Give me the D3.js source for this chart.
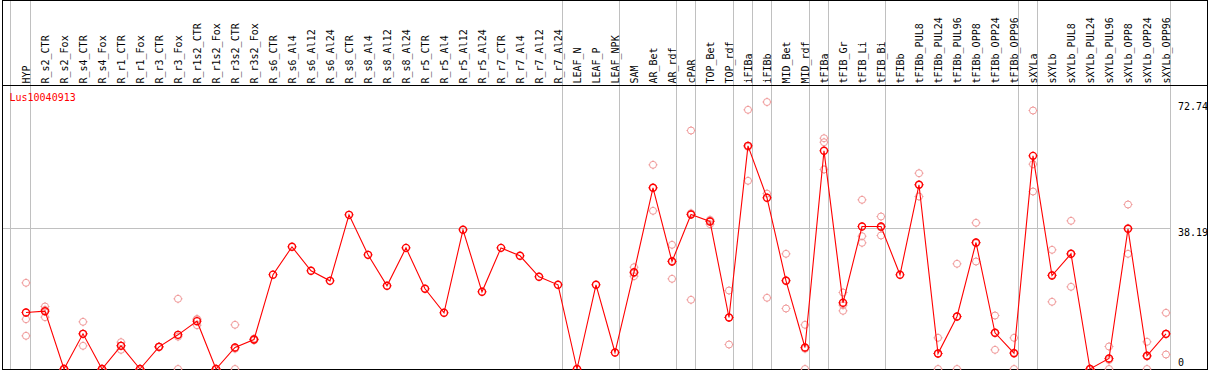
<!DOCTYPE html>
<html>
<head>
<meta charset="utf-8">
<script src="https://cdn.jsdelivr.net/npm/d3@7"></script>
<style>
  body { margin: 0; background: #fff; }
  svg { display: block; }
  text { font-family: "DejaVu Sans Mono", monospace; font-size: 10px; }
</style>
</head>
<body>
<svg id="chart" width="1209" height="370"></svg>
<script>
// Sample names, one per column
var categories = ["HYP", "R_s2_CTR", "R_s2_Fox", "R_s4_CTR", "R_s4_Fox", "R_r1_CTR", "R_r1_Fox",
    "R_r3_CTR", "R_r3_Fox", "R_r1s2_CTR", "R_r1s2_Fox", "R_r3s2_CTR", "R_r3s2_Fox",
    "R_s6_CTR", "R_s6_Al4", "R_s6_Al12", "R_s6_Al24", "R_s8_CTR", "R_s8_Al4", "R_s8_Al12", "R_s8_Al24",
    "R_r5_CTR", "R_r5_Al4", "R_r5_Al12", "R_r5_Al24", "R_r7_CTR", "R_r7_Al4", "R_r7_Al12", "R_r7_Al24",
    "LEAF_N", "LEAF_P", "LEAF_NPK", "SAM", "AR_Bet", "AR_rdf", "cPAR", "TOP_Bet", "TOP_rdf",
    "iFIBa", "iFIBb", "MID_Bet", "MID_rdf", "tFIBa", "tFIB_Gr", "tFIB_Li", "tFIB_Bi", "tFIBb",
    "tFIBb_PUL8", "tFIBb_PUL24", "tFIBb_PUL96", "tFIBb_OPP8", "tFIBb_OPP24", "tFIBb_OPP96",
    "sXYLa", "sXYLb", "sXYLb_PUL8", "sXYLb_PUL24", "sXYLb_PUL96", "sXYLb_OPP8", "sXYLb_OPP24", "sXYLb_OPP96"];

// Mean expression per sample
var meanValues = [15.39, 15.75, 0, 9.58, 0, 6.31, 0, 6.04, 9.31, 13.03, 0, 5.86, 8.04,
    25.7, 33.29, 26.75, 24.02, 42.0, 31.1, 22.66, 33.0,
    21.85, 15.31, 37.92, 21.03, 33.0, 30.84, 25.12, 22.94,
    0, 22.94, 4.49, 26.37, 49.36, 29.28, 42.09, 40.18, 14.03,
    60.8, 46.64, 24.03, 5.86, 59.44, 18.03, 38.82, 38.82, 25.66,
    50.18, 4.22, 14.3, 34.46, 9.86, 4.31,
    58.07, 25.47, 31.38, 0, 2.86, 38.19, 3.6, 9.58];

// Replicates (null where the sample has a single value)
var rep1 = [23.48, 17.03, 0, 12.85, 0, 7.31, 0, 6.1, 19.12, 13.57, 0, 12.04, 8.3,
    null, null, null, null, null, null, null, null,
    null, null, null, null, null, null, null, null,
    null, null, null, 27.73, 55.62, 33.83, 64.97, 40.64, 21.38,
    70.61, 72.74, 31.38, 12.04, 62.87, 20.84, 46.09, 41.54, null,
    53.34, 8.5, 28.66, 39.83, 14.57, 8.5,
    70.42, 32.47, 40.37, 0, 6.13, 44.81, 7.41, 15.31];
var rep2 = [13.57, 14.12, 0, 6.31, 0, 6.4, 0, 6.0, 0, 11.93, 0, 0, 7.8,
    null, null, null, null, null, null, null, null,
    null, null, null, null, null, null, null, null,
    null, null, null, 25.28, 43.09, 24.57, 18.85, 39.45, 6.67,
    51.27, 19.4, 16.48, 0, 61.78, 15.85, 36.18, 36.37, null,
    46.99, 0, 0, 29.28, 5.22, 0,
    55.8, 18.31, 22.39, 0, 0, 31.38, 0, 3.95];
var rep3 = [9.04, 16.1, 0, 9.58, 0, 5.22, 0, 6.0, 8.8, 13.6, 0, 5.5, 8.0,
    null, null, null, null, null, null, null, null,
    null, null, null, null, null, null, null, null,
    null, null, null, 26.1, 49.37, 29.44, 42.45, 40.45, 14.04,
    60.52, 47.78, 24.2, 5.5, 54.35, 17.4, 34.38, 38.55, null,
    50.2, 4.17, 14.24, 34.27, 9.79, 4.43,
    48.35, 25.63, 31.38, 0, 2.45, 38.38, 3.39, 9.48];

// Last sample of each group: a separator is drawn after it
var groupEnds = ["HYP", "R_r7_Al24", "LEAF_NPK", "AR_rdf", "cPAR", "TOP_rdf", "iFIBa", "iFIBb",
    "MID_rdf", "tFIBa", "tFIB_Bi", "tFIBb_OPP96", "sXYLa", "sXYLb_OPP96"];

var yTicks = [72.74, 38.19, 0];
var yGrid = [38.19];
var geneName = "Lus10040913";

var W = 1209, H = 370;
var headerY = 85;
var svg = d3.select("#chart");

var x = d3.scalePoint().domain(categories).range([26, 1166]);
var step = x.step();
var y = d3.scaleLinear().domain([0, 72.74]).range([369, 102]);

var crisp = function (v) { return Math.floor(v) + 0.5; };

// grey separators, the first one sits before the first sample
var sepX = [x(categories[0]) - step + 3.5].concat(groupEnds.map(function (c) { return x(c) + 4.5; }));
var lastSep = d3.max(sepX);

svg.append("g").selectAll("line")
    .data(sepX)
    .enter().append("line")
    .attr("x1", function (d) { return crisp(d); })
    .attr("x2", function (d) { return crisp(d); })
    .attr("y1", 0).attr("y2", H)
    .attr("stroke", "#c0c0c0").attr("stroke-width", 1)
    .attr("shape-rendering", "crispEdges");

svg.append("g").selectAll("line")
    .data(yGrid)
    .enter().append("line")
    .attr("x1", 2).attr("x2", crisp(lastSep))
    .attr("y1", function (d) { return crisp(y(d)); })
    .attr("y2", function (d) { return crisp(y(d)); })
    .attr("stroke", "#c0c0c0").attr("stroke-width", 1)
    .attr("shape-rendering", "crispEdges");

// frame + header separator
var frame = svg.append("g").attr("stroke", "#000").attr("stroke-width", 1).attr("shape-rendering", "crispEdges");
frame.append("line").attr("x1", 2).attr("x2", 1208).attr("y1", 0.5).attr("y2", 0.5);
frame.append("line").attr("x1", 2).attr("x2", 1208).attr("y1", headerY + 0.5).attr("y2", headerY + 0.5);
frame.append("line").attr("x1", 2).attr("x2", 1208).attr("y1", 369.5).attr("y2", 369.5);
frame.append("line").attr("x1", 2.5).attr("x2", 2.5).attr("y1", 0).attr("y2", H);
frame.append("line").attr("x1", 1207.5).attr("x2", 1207.5).attr("y1", 0).attr("y2", H);

// rotated sample labels
svg.append("g").selectAll("text")
    .data(categories)
    .enter().append("text")
    .attr("transform", function (d) { return "translate(" + (x(d) + 3.5) + "," + (headerY - 1.5) + ") rotate(-90)"; })
    .attr("fill", "#000")
    .text(function (d) { return d; });

// y labels on the right
svg.append("g").selectAll("text")
    .data(yTicks)
    .enter().append("text")
    .attr("x", lastSep + 7.5)
    .attr("y", function (d) { return d === 0 ? y(d) - 3.5 : y(d) + 7.5; })
    .attr("fill", "#000")
    .text(function (d) { return d; });

svg.append("text")
    .attr("x", 9.5).attr("y", 101)
    .attr("fill", "#ff0000")
    .text(geneName);

// marker: circle with small ticks
function marker(g, color, width) {
    g.append("circle").attr("r", 3.5).attr("fill", "none").attr("stroke", color).attr("stroke-width", width);
    g.append("path").attr("d", "M0,-4.5V-3M0,3V4.5M-4.5,0H-3M3,0H4.5")
        .attr("stroke", color).attr("stroke-width", 1);
}

// replicates
var reps = [];
categories.forEach(function (c, i) {
    [rep1[i], rep2[i], rep3[i]].forEach(function (v) {
        if (v !== null) reps.push({ c: c, v: v });
    });
});

svg.append("g").selectAll("g")
    .data(reps)
    .enter().append("g")
    .attr("transform", function (d) { return "translate(" + x(d.c) + "," + y(d.v) + ")"; })
    .each(function () { marker(d3.select(this), "#f09a9a", 1); });

// mean line
var means = categories.map(function (c, i) { return { c: c, v: meanValues[i] }; });
svg.append("path")
    .datum(means)
    .attr("fill", "none")
    .attr("stroke", "#ff0000")
    .attr("stroke-width", 1.1)
    .attr("d", d3.line().x(function (d) { return x(d.c); }).y(function (d) { return y(d.v); }));

svg.append("g").selectAll("g")
    .data(means)
    .enter().append("g")
    .attr("transform", function (d) { return "translate(" + x(d.c) + "," + y(d.v) + ")"; })
    .each(function () { marker(d3.select(this), "#ff0000", 1.4); });
</script>
</body>
</html>
